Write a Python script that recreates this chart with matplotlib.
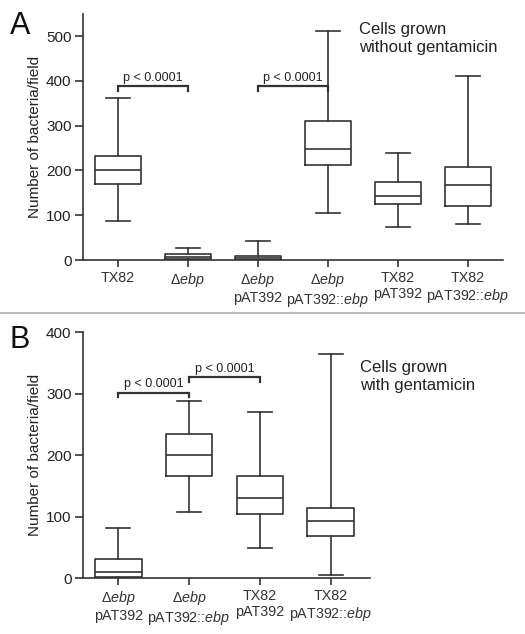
import matplotlib
matplotlib.use("Agg")
import matplotlib.pyplot as plt
from matplotlib.lines import Line2D

plt.rcParams["font.family"] = "Liberation Sans"
plt.rcParams["mathtext.fontset"] = "custom"
plt.rcParams["mathtext.rm"] = "Liberation Sans"
plt.rcParams["mathtext.it"] = "Liberation Sans:italic"

# panel A: cells grown without gentamicin
labels_a = ["TX82", "Δ$\\mathit{ebp}$", "Δ$\\mathit{ebp}$\npAT392",
            "Δ$\\mathit{ebp}$\npAT392::$\\mathit{ebp}$", "TX82\npAT392",
            "TX82\npAT392::$\\mathit{ebp}$"]
wlo_a = [87, 0, 0, 106, 74, 80]
q1_a = [170, 2, 1, 213, 125, 121]
med_a = [200, 6, 5, 248, 143, 167]
q3_a = [232, 14, 10, 311, 174, 208]
whi_a = [362, 27, 43, 512, 239, 411]
brackets_a = [(0, 1, 388), (2, 3, 388)]

# panel B: cells grown with gentamicin
labels_b = ["Δ$\\mathit{ebp}$\npAT392", "Δ$\\mathit{ebp}$\npAT392::$\\mathit{ebp}$",
            "TX82\npAT392", "TX82\npAT392::$\\mathit{ebp}$"]
wlo_b = [0, 107, 50, 6]
q1_b = [2, 167, 105, 69]
med_b = [11, 200, 131, 93]
q3_b = [32, 234, 167, 115]
whi_b = [81, 289, 270, 365]
brackets_b = [(0, 1, 302), (1, 2, 327)]

col = "#333333"
lw = 1.2

fig = plt.figure(figsize=(5.25, 6.34), dpi=100)


def panel(ax, labels, wlo, q1, med, q3, whi, brackets, ymax, step, xmax):
    stats = []
    for i in range(len(labels)):
        stats.append(dict(whislo=wlo[i], q1=q1[i], med=med[i], q3=q3[i],
                          whishi=whi[i], fliers=[]))
    props = dict(color=col, linewidth=lw)
    ax.bxp(stats, positions=range(len(labels)), widths=0.66, capwidths=0.34,
           showfliers=False, boxprops=props, whiskerprops=props,
           capprops=props, medianprops=props)
    ax.set_xlim(-0.5, xmax)
    ax.set_ylim(0, ymax)
    ax.set_yticks(range(0, ymax + 1, step))
    ax.set_xticks(range(len(labels)))
    ax.set_xticklabels(labels, fontsize=10.3, color="#222222", linespacing=1.15)
    ax.tick_params(axis="y", length=6, width=lw, colors=col, labelsize=11,
                   labelcolor="#222222", pad=2)
    ax.tick_params(axis="x", length=5, width=lw, colors=col, pad=3)
    for s in ["top", "right"]:
        ax.spines[s].set_visible(False)
    for s in ["left", "bottom"]:
        ax.spines[s].set_color(col)
        ax.spines[s].set_linewidth(lw)
    ax.set_ylabel("Number of bacteria/field", fontsize=11, color="#222222",
                  labelpad=3)
    dy = ymax * 0.018
    for a, b, h in brackets:
        ax.plot([a, a, b, b], [h - dy, h, h, h - dy], color=col, lw=1.6,
                solid_joinstyle="miter", clip_on=False, zorder=5)
        ax.text((a + b) / 2, h + dy * 0.6, "p < 0.0001", ha="center",
                va="bottom", fontsize=9, color="#222222")


ax1 = fig.add_axes([0.1575, 0.5899, 0.8006, 0.3886])
panel(ax1, labels_a, wlo_a, q1_a, med_a, q3_a, whi_a, brackets_a, 550, 100, 5.5)
ax1.set_ylim(0, 550)
ax1.set_yticks(range(0, 501, 100))

ax2 = fig.add_axes([0.1575, 0.0879, 0.547, 0.388])
panel(ax2, labels_b, wlo_b, q1_b, med_b, q3_b, whi_b, brackets_b, 400, 100, 3.55)

fig.text(0.684, 0.966, "Cells grown\nwithout gentamicin", fontsize=12,
         color="#222222", va="top", ha="left", linespacing=1.25)
fig.text(0.686, 0.432, "Cells grown\nwith gentamicin", fontsize=12,
         color="#222222", va="top", ha="left", linespacing=1.25)

fig.text(0.018, 0.959, "A", fontsize=22, color="#111111", va="center")
fig.text(0.018, 0.464, "B", fontsize=22, color="#111111", va="center")

fig.add_artist(Line2D([0, 1], [0.5063, 0.5063], color="#b0b0b0", lw=1.2))

fig.savefig("out.png", dpi=100)
